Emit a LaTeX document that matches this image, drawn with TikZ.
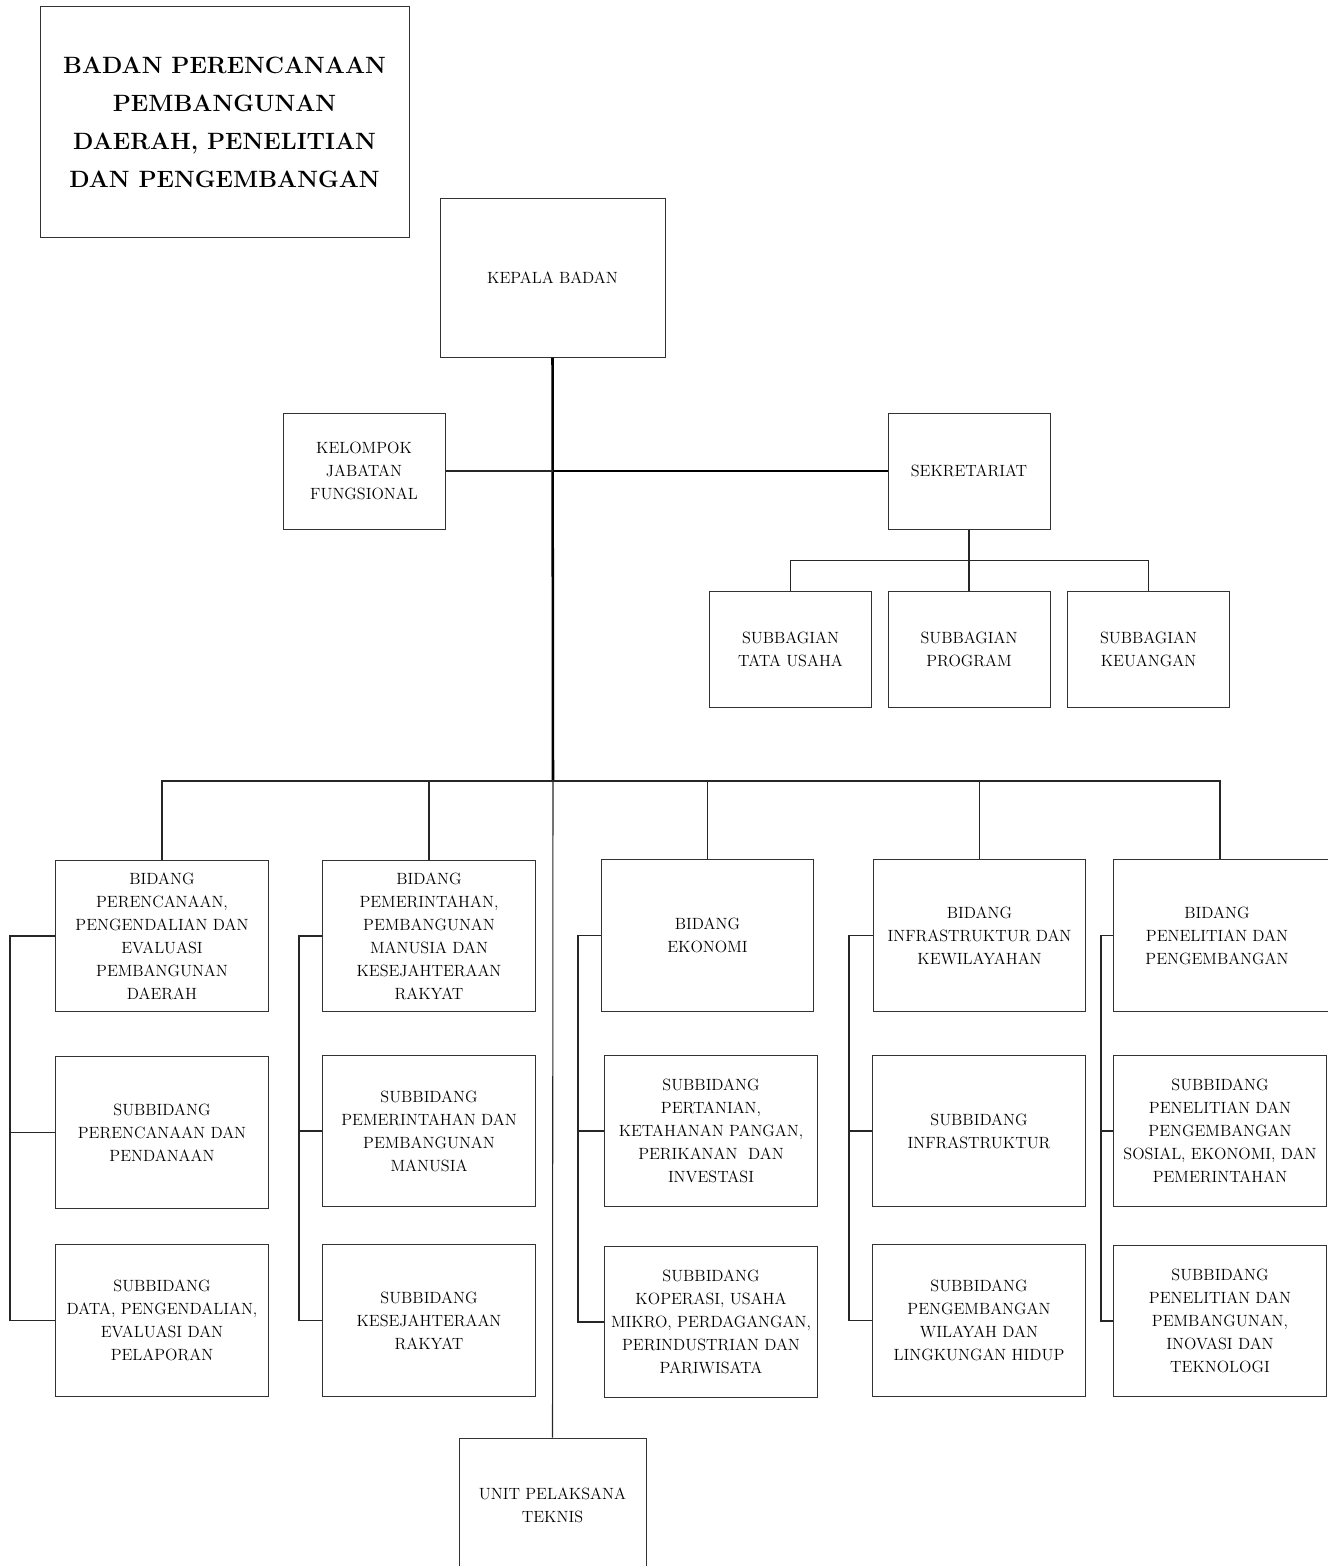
\documentclass[tikz,border=0pt]{standalone}
\usepackage{tikz}
\usetikzlibrary{positioning,calc}

\begin{document}
\begin{tikzpicture}[
  x=0.75pt, y=-0.75pt,
  box/.style={draw=black!80, line width=0.75pt, align=center, inner sep=2pt,
    font=\fontsize{12.2}{17.25}\selectfont},
  titlebox/.style={box, minimum width=276.75pt, minimum height=172.5pt,
    font=\bfseries\fontsize{17.7}{28.5}\selectfont},
  headbox/.style={box, minimum width=168.75pt, minimum height=119.25pt},
  midbox/.style={box, minimum width=121.5pt, minimum height=87pt},
  bidbox/.style={box, minimum width=159.5pt, minimum height=113.5pt},
  conn/.style={black!85, line width=0.8pt},
  trunk/.style={black, line width=1.9pt}
]
\useasboundingbox (0,0) rectangle (1327,1566);

% title
\node[titlebox] (title) at (224.5,122) {BADAN PERENCANAAN\\PEMBANGUNAN\\DAERAH, PENELITIAN\\DAN PENGEMBANGAN};

% top level
\node[headbox] (kepala) at (552.5,277.5) {KEPALA BADAN};
\node[midbox] (jabfung) at (364,471) {KELOMPOK\\JABATAN\\FUNGSIONAL};
\node[midbox] (sekre) at (969,471) {SEKRETARIAT};
\node[midbox] (subtu) at (790.5,649.5) {SUBBAGIAN\\TATA USAHA};
\node[midbox] (subprog) at (969,649.5) {SUBBAGIAN\\PROGRAM};
\node[midbox] (subkeu) at (1148.5,649.5) {SUBBAGIAN\\KEUANGAN};

% bidang
\node[bidbox] (bid1) at (162,936) {BIDANG\\PERENCANAAN,\\PENGENDALIAN DAN\\EVALUASI\\PEMBANGUNAN\\DAERAH};
\node[bidbox] (bid2) at (429,936) {BIDANG\\PEMERINTAHAN,\\PEMBANGUNAN\\MANUSIA DAN\\KESEJAHTERAAN\\RAKYAT};
\node[bidbox] (bid3) at (707.5,935.5) {BIDANG\\EKONOMI};
\node[bidbox] (bid4) at (979.5,935.5) {BIDANG\\INFRASTRUKTUR DAN\\KEWILAYAHAN};
\node[bidbox, minimum width=168pt] (bid5) at (1225,935.5) {\hspace*{-12pt}BIDANG\\\hspace*{-12pt}PENELITIAN DAN\\\hspace*{-12pt}PENGEMBANGAN};

% subbidang
\node[bidbox] (sub1a) at (162,1132.5) {SUBBIDANG\\PERENCANAAN DAN\\PENDANAAN};
\node[bidbox] (sub1b) at (162,1320.5) {SUBBIDANG\\DATA, PENGENDALIAN,\\EVALUASI DAN\\PELAPORAN};
\node[bidbox] (sub2a) at (429,1131) {SUBBIDANG\\PEMERINTAHAN DAN\\PEMBANGUNAN\\MANUSIA};
\node[bidbox] (sub2b) at (429,1320.5) {SUBBIDANG\\KESEJAHTERAAN\\RAKYAT};
\node[bidbox] (sub3a) at (711,1131) {SUBBIDANG\\PERTANIAN,\\KETAHANAN PANGAN,\\PERIKANAN\ \ DAN\\INVESTASI};
\node[bidbox] (sub3b) at (711,1322) {SUBBIDANG\\KOPERASI, USAHA\\MIKRO, PERDAGANGAN,\\PERINDUSTRIAN DAN\\PARIWISATA};
\node[bidbox] (sub4a) at (979,1131) {SUBBIDANG\\INFRASTRUKTUR};
\node[bidbox] (sub4b) at (979,1320.5) {SUBBIDANG\\PENGEMBANGAN\\WILAYAH DAN\\LINGKUNGAN HIDUP};
\node[bidbox] (sub5a) at (1220,1131) {SUBBIDANG\\PENELITIAN DAN\\PENGEMBANGAN\\SOSIAL, EKONOMI, DAN\\PEMERINTAHAN};
\node[bidbox] (sub5b) at (1220,1321) {SUBBIDANG\\PENELITIAN DAN\\PEMBANGUNAN,\\INOVASI DAN\\TEKNOLOGI};

\node[box, minimum width=140.25pt, minimum height=100.5pt] (upt) at (552.5,1505) {UNIT PELAKSANA\\TEKNIS};

% lines
\coordinate (bus) at (553,781);
\coordinate (mid) at (553,471);
\draw[trunk] (kepala.south) -- (bus);
\draw[conn] (jabfung.east) -- (mid);
\draw[trunk, line width=1.5pt] (mid) -- (sekre.west);
\draw[conn] (bus) -- (upt.north);
\draw[conn] (sekre.south) -- ++(0,31) coordinate (sbus);
\draw[conn] (sbus) -| (subtu.north);
\draw[conn] (sbus) -- (subprog.north);
\draw[conn] (sbus) -| (subkeu.north);
\draw[conn] (bus) -| (bid1.north);
\draw[conn] (bus) -| (bid2.north);
\draw[conn, line width=1.1pt] (bus) -| (bid3.north);
\draw[conn, line width=1.1pt] (bus) -| (bid4.north);
\draw[conn, line width=1.1pt] (bus) -| ($(bid5.north)+(-5,0)$);
\foreach \b/\k in {1/10, 2/299, 3/578, 4/849, 5/1101}{
  \coordinate (kx) at (\k,0);
  \draw[conn] (bid\b.west) -- (bid\b.west -| kx) coordinate (k\b) |- (sub\b a.west);
  \draw[conn] (k\b) |- (sub\b b.west);
}
\end{tikzpicture}
\end{document}
